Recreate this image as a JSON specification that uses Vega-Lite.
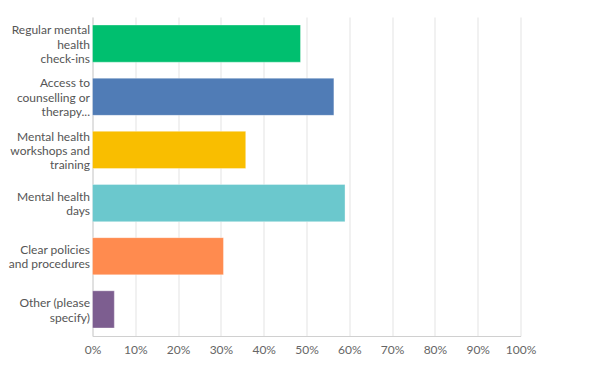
{
  "$schema": "https://vega.github.io/schema/vega-lite/v6.json",
  "autosize": "none",
  "width": 428,
  "height": 319,
  "padding": {"left": 92.5, "top": 17, "right": 80.5, "bottom": 42},
  "background": "white",
  "data": {"values": [
    {"option": "Regular mental|health|check-ins", "pct": 0.486, "color": "#00bf6f"},
    {"option": "Access to|counselling or|therapy...", "pct": 0.564, "color": "#507cb6"},
    {"option": "Mental health|workshops and|training", "pct": 0.358, "color": "#f9be00"},
    {"option": "Mental health|days", "pct": 0.59, "color": "#6bc8cd"},
    {"option": "Clear policies|and procedures", "pct": 0.306, "color": "#ff8b4f"},
    {"option": "Other (please|specify)", "pct": 0.051, "color": "#7d5e90"}
  ]},
  "mark": {"type": "bar", "strokeWidth": 1, "strokeOpacity": 0.35, "stroke": "white"},
  "encoding": {
    "y": {
      "field": "option", "type": "nominal", "sort": null,
      "scale": {"paddingInner": 0.3, "paddingOuter": 0.15},
      "axis": {
        "title": null, "ticks": false, "labelExpr": "split(datum.value, '|')",
        "labelFont": "Lato", "labelFontSize": 12, "labelColor": "#555555",
        "labelLineHeight": 14.3, "labelPadding": 3, "labelLimit": 200,
        "domainColor": "#d0d0d0", "grid": false,
        "labelOffset": {"expr": "-(length(split(datum.value, '|')) - 1) * 7.15 + 1"}
      }
    },
    "x": {
      "field": "pct", "type": "quantitative",
      "scale": {"domain": [0, 1], "nice": false},
      "axis": {
        "title": null, "format": ".0%", "values": [0, 0.1, 0.2, 0.3, 0.4, 0.5, 0.6, 0.7, 0.8, 0.9, 1],
        "ticks": false, "labelFont": "Lato", "labelFontSize": 12, "labelColor": "#666666",
        "labelPadding": 8, "domainColor": "#d0d0d0", "gridColor": "#ececec", "gridWidth": 1.5,
        "labelFlush": false
      }
    },
    "color": {"field": "color", "type": "nominal", "scale": null, "legend": null}
  },
  "config": {"view": {"stroke": null}}
}
